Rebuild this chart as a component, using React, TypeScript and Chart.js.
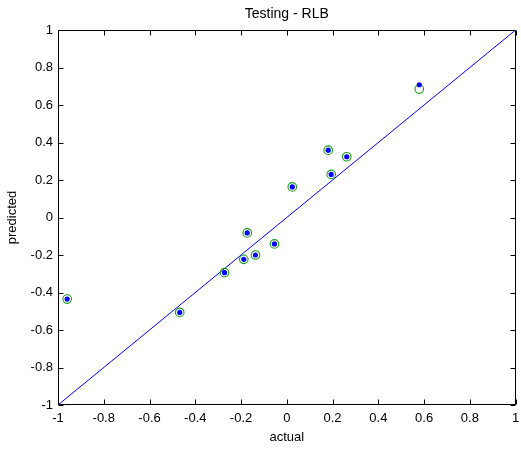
import React, { useEffect, useRef } from "react";
import { Chart, registerables } from "chart.js";

Chart.register(...registerables);

const actualValues = [-0.96, -0.468, -0.272, -0.188, -0.137, -0.173, -0.054, 0.024, 0.181, 0.262, 0.194, 0.579];
const predictedOpen = [-0.435, -0.506, -0.294, -0.223, -0.2, -0.082, -0.141, 0.163, 0.359, 0.324, 0.23, 0.685];
const predictedDot = [-0.435, -0.506, -0.294, -0.223, -0.2, -0.082, -0.141, 0.163, 0.359, 0.324, 0.23, 0.708];
const idealLine = [-1, 1];
const xTickValues = [-1, -0.8, -0.6, -0.4, -0.2, 0, 0.2, 0.4, 0.6, 0.8, 1];
const yTickValues = [-1, -0.8, -0.6, -0.4, -0.2, 0, 0.2, 0.4, 0.6, 0.8, 1];

const FONT = "'Liberation Sans', Arial, Helvetica, sans-serif";
const fmt = (v: number) => String(Math.round(v * 10) / 10);

const boxPlugin = {
  id: "matlabBox",
  afterDraw(chart: any) {
    const { ctx, chartArea } = chart;
    const { left, right, top, bottom } = chartArea;
    const xs = chart.scales.x;
    const ys = chart.scales.y;
    const L = Math.round(left) + 0.5;
    const R = Math.round(right) - 0.5;
    const T = Math.round(top) + 0.5;
    const B = Math.round(bottom) - 0.5;
    const len = 5;
    ctx.save();
    ctx.strokeStyle = "#000";
    ctx.lineWidth = 1;
    ctx.beginPath();
    ctx.rect(L, T, R - L, B - T);
    ctx.stroke();
    ctx.beginPath();
    xTickValues.forEach((v) => {
      const px = Math.round(xs.getPixelForValue(v)) + 0.5;
      ctx.moveTo(px, B);
      ctx.lineTo(px, B - len);
      ctx.moveTo(px, T);
      ctx.lineTo(px, T + len);
    });
    yTickValues.forEach((v) => {
      const py = Math.round(ys.getPixelForValue(v)) + 0.5;
      ctx.moveTo(L, py);
      ctx.lineTo(L + len, py);
      ctx.moveTo(R, py);
      ctx.lineTo(R - len, py);
    });
    ctx.stroke();
    ctx.restore();
  },
};

export default function App() {
  const ref = useRef<HTMLCanvasElement | null>(null);
  useEffect(() => {
    if (!ref.current) return;
    const chart = new Chart(ref.current, {
      type: "scatter",
      data: {
        datasets: [
          {
            label: "predicted dot",
            data: actualValues.map((x, i) => ({ x, y: predictedDot[i] })),
            pointStyle: "circle",
            pointRadius: 2.6,
            pointBorderWidth: 0,
            pointBackgroundColor: "#0000ff",
            pointBorderColor: "#0000ff",
          },
          {
            label: "predicted open",
            data: actualValues.map((x, i) => ({ x, y: predictedOpen[i] })),
            pointStyle: "circle",
            pointRadius: 4.3,
            pointBorderWidth: 1.1,
            pointBackgroundColor: "rgba(0,0,0,0)",
            pointBorderColor: "#1a9a1a",
          },
          {
            type: "line",
            label: "ideal",
            data: idealLine.map((v) => ({ x: v, y: v })),
            borderColor: "#0000ff",
            borderWidth: 1,
            pointRadius: 0,
            fill: false,
          } as any,
        ],
      },
      options: {
        animation: false,
        responsive: false,
        events: [],
        layout: { padding: { left: 0, right: 3, top: 0, bottom: 0 } },
        plugins: {
          legend: { display: false },
          tooltip: { enabled: false },
          title: {
            display: true,
            fullSize: false,
            text: "Testing - RLB",
            color: "#000",
            font: { family: FONT, size: 14, weight: "normal" },
            padding: { top: 6, bottom: 7.2 },
          },
        },
        scales: {
          x: {
            type: "linear",
            min: -1,
            max: 1,
            afterBuildTicks: (s: any) => {
              s.ticks = xTickValues.map((v) => ({ value: v }));
            },
            afterFit: (s: any) => {
              s.height = 45;
              s.paddingLeft = 0;
              s.paddingRight = 0;
            },
            grid: { display: false, drawTicks: false },
            border: { display: false },
            ticks: {
              color: "#000",
              font: { family: FONT, size: 13 },
              padding: 6,
              maxRotation: 0,
              autoSkip: false,
              callback: (v: any) => fmt(Number(v)),
            },
            title: {
              display: true,
              text: "actual",
              color: "#000",
              font: { family: FONT, size: 13 },
              padding: { top: 0, bottom: 5 },
            },
          },
          y: {
            type: "linear",
            min: -1,
            max: 1,
            afterBuildTicks: (s: any) => {
              s.ticks = yTickValues.map((v) => ({ value: v }));
            },
            afterFit: (s: any) => {
              s.width = 58;
              s.paddingTop = 0;
              s.paddingBottom = 0;
            },
            grid: { display: false, drawTicks: false },
            border: { display: false },
            ticks: {
              color: "#000",
              font: { family: FONT, size: 13 },
              padding: 5,
              autoSkip: false,
              callback: (v: any) => fmt(Number(v)),
            },
            title: {
              display: true,
              text: "predicted",
              color: "#000",
              font: { family: FONT, size: 13 },
              padding: { top: 5, bottom: 0 },
            },
          },
        },
      },
      plugins: [boxPlugin],
    } as any);
    return () => chart.destroy();
  }, []);
  return (
    <div style={{ position: "fixed", left: 0, top: 0, width: 521, height: 450, background: "#fff" }}>
      <canvas ref={ref} width={521} height={450} style={{ display: "block", width: 521, height: 450 }} />
    </div>
  );
}
